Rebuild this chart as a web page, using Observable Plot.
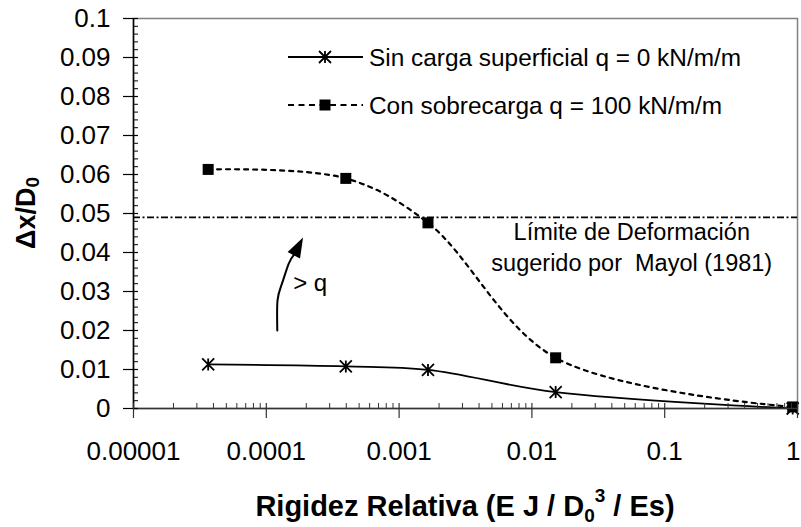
<!DOCTYPE html>
<html><head><meta charset="utf-8">
<script src="https://cdn.jsdelivr.net/npm/d3@7"></script>
<script src="https://cdn.jsdelivr.net/npm/@observablehq/plot@0.6"></script>
<style>
body{margin:0;background:#fff;}
svg{display:block;}
</style>
</head><body><div id="chart"></div>
<script>
// ---- data ----
const rigidity = [3.65e-5, 3.97e-4, 1.65e-3, 0.0151, 0.92];
const sinCarga = [0.0113, 0.0108, 0.0099, 0.0042, 0.0];
const conSobrecarga = [0.0613, 0.0590, 0.0476, 0.0130, 0.0004];
const limitValue = 0.049;
const seriesNames = ["Sin carga superficial q = 0 kN/m/m", "Con sobrecarga q = 100 kN/m/m"];
const xTickValues = [1e-5, 1e-4, 1e-3, 1e-2, 1e-1, 1];
const xTickLabels = ["0.00001", "0.0001", "0.001", "0.01", "0.1", "1"];
const yTickValues = [0, 0.01, 0.02, 0.03, 0.04, 0.05, 0.06, 0.07, 0.08, 0.09, 0.1];
const yTickLabels = ["0", "0.01", "0.02", "0.03", "0.04", "0.05", "0.06", "0.07", "0.08", "0.09", "0.1"];
const limitText = ["Límite de Deformación", "sugerido por \u00a0Mayol (1981)"];
const limitTextX = [0.0565, 0.0565];
const limitTextY = [0.0451, 0.0372];
const arrowText = "> q";
const arrowTextX = 2.14e-4, arrowTextY = 0.0321;
const arrowPathX = [1.21e-4, 1.215e-4, 1.312e-4, 1.473e-4, 1.624e-4];
const arrowPathY = [0.0200, 0.0277, 0.0320, 0.0371, 0.0395];
const yLabel = "Δx/D";
const xLabel = "Rigidez Relativa (E J / D";

// ---- derived tables ----
const s1 = rigidity.map((x, i) => ({x, y: sinCarga[i]}));
const s2 = rigidity.map((x, i) => ({x, y: conSobrecarga[i]}));
const arrowPath = arrowPathX.map((x, i) => ({x, y: arrowPathY[i]}));
const xMinor = [];
for (let e = -5; e < 0; e++) for (let m = 2; m <= 9; m++) xMinor.push(m * Math.pow(10, e));
const yMinor = d3.range(0, 50).map(i => i * 0.002).filter((v, i) => i % 5 !== 0);
const xTicksInner = xTickValues.slice(0, -1);
const xTickLast = xTickValues.slice(-1);

const starSymbol = {draw(ctx, size) {
  const r = Math.sqrt(size / Math.PI);
  ctx.moveTo(0, -r); ctx.lineTo(0, r);
  ctx.moveTo(-r, -r); ctx.lineTo(r, r);
  ctx.moveTo(-r, r); ctx.lineTo(r, -r);
}};
const squareSymbol = {draw(ctx, size) {
  const r = Math.sqrt(size / Math.PI);
  ctx.rect(-r, -r, 2 * r, 2 * r);
}};
const headSymbol = {draw(ctx, size) {
  ctx.moveTo(0, -19); ctx.lineTo(7, 1); ctx.lineTo(-7, 1); ctx.closePath();
}};

const W = 801, H = 527, ML = 133, MR = 4, MT = 18, MB = 119;
const FW = W - ML - MR, FH = H - MT - MB;
const font = "'Liberation Sans', Arial, sans-serif";

const chart = Plot.plot({
  width: W, height: H,
  marginLeft: ML, marginRight: MR, marginTop: MT, marginBottom: MB,
  style: {fontFamily: font, background: "white", color: "black"},
  x: {type: "log", domain: [1e-5, 1], axis: null},
  y: {domain: [0, 0.1], axis: null},
  marks: [
    Plot.frame({stroke: "#808080", strokeWidth: 1.5}),
    Plot.ruleY([limitValue], {stroke: "black", strokeWidth: 1.6, strokeDasharray: "7,2.5,2,2.5"}),
    Plot.line(s1, {x: "x", y: "y", curve: "catmull-rom", stroke: "black", strokeWidth: 1.8}),
    Plot.line(s2, {x: "x", y: "y", curve: "catmull-rom", stroke: "black", strokeWidth: 2.2, strokeDasharray: "4,5"}),
    Plot.dot(s1, {x: "x", y: "y", symbol: starSymbol, r: 6, stroke: "black", strokeWidth: 1.8, fill: "none"}),
    Plot.dot(s2, {x: "x", y: "y", symbol: squareSymbol, r: 5.5, fill: "black", stroke: "none"}),
    // axes lines
    Plot.ruleX([1e-5], {stroke: "black", strokeWidth: 1.5}),
    Plot.ruleY([0], {stroke: "#333", strokeWidth: 1.5}),
    // ticks
    Plot.tickY(yTickValues, {y: d => d, insetLeft: -10, insetRight: FW - 5, stroke: "black", strokeWidth: 1.2}),
    Plot.tickY(yMinor, {y: d => d, insetLeft: 0, insetRight: FW - 5, stroke: "black", strokeWidth: 1}),
    Plot.tickX(xTickValues, {x: d => d, insetTop: FH - 5, insetBottom: -10, stroke: "#333", strokeWidth: 1.2}),
    Plot.tickX(xMinor, {x: d => d, insetTop: FH - 5, insetBottom: 0, stroke: "#333", strokeWidth: 1}),
    // tick labels
    Plot.text(yTickValues, {x: () => 1e-5, y: d => d, text: (d, i) => yTickLabels[i], dx: -23, textAnchor: "end", fontSize: 26, fill: "black"}),
    Plot.text(xTicksInner, {x: d => d, y: () => 0, text: (d, i) => xTickLabels[i], dy: 43, fontSize: 26, fill: "black"}),
    Plot.text(xTickLast, {x: d => d, y: () => 0, text: () => xTickLabels[xTickLabels.length - 1], dy: 43, dx: 3, textAnchor: "end", fontSize: 26, fill: "black"}),
    // annotations
    Plot.text(limitText, {x: (d, i) => limitTextX[i], y: (d, i) => limitTextY[i], text: d => d, fontSize: 23.5, fill: "black"}),
    Plot.text([arrowText], {x: () => arrowTextX, y: () => arrowTextY, text: d => d, fontSize: 24, fill: "black"}),
    Plot.line(arrowPath, {x: "x", y: "y", curve: "natural", stroke: "black", strokeWidth: 2}),
    Plot.dot([arrowPath[arrowPath.length - 1]], {x: "x", y: "y", symbol: headSymbol, r: 5, rotate: 27.5, fill: "black", stroke: "none"})
  ]
});
document.getElementById("chart").appendChild(chart);

// ---- legend and axis titles ----
const svg = d3.select(chart);
const lg = svg.append("g").attr("font-family", font).attr("font-size", 24.4).attr("text-anchor", "start");
const legendRows = [
  {y: 57, dash: null, sym: "star"},
  {y: 105, dash: "6,4.5", sym: "square"}
];
legendRows.forEach((row, i) => {
  lg.append("line").attr("x1", 288).attr("x2", 363).attr("y1", row.y).attr("y2", row.y)
    .attr("stroke", "black").attr("stroke-width", row.dash ? 2.2 : 1.8)
    .attr("stroke-dasharray", row.dash);
  if (row.sym === "star") {
    const p = d3.path(); const r = 6, cx = 325, cy = row.y;
    p.moveTo(cx, cy - r); p.lineTo(cx, cy + r);
    p.moveTo(cx - r, cy - r); p.lineTo(cx + r, cy + r);
    p.moveTo(cx - r, cy + r); p.lineTo(cx + r, cy - r);
    lg.append("path").attr("d", p.toString()).attr("stroke", "black").attr("stroke-width", 1.8);
  } else {
    lg.append("rect").attr("x", 325 - 5.5).attr("y", row.y - 5.5).attr("width", 11).attr("height", 11).attr("fill", "black");
  }
  lg.append("text").attr("x", 369).attr("y", row.y).attr("dy", "0.35em").attr("text-anchor", "start").attr("fill", "black").text(seriesNames[i]);
});

const xt = svg.append("text").attr("x", ML + FW / 2).attr("y", 516)
  .attr("text-anchor", "middle").attr("font-family", font).attr("font-size", 29).attr("font-weight", "bold").attr("fill", "black");
xt.append("tspan").text(xLabel);
xt.append("tspan").attr("font-size", 19).attr("dy", 6).text("0");
xt.append("tspan").attr("font-size", 19).attr("dy", -20).text("3");
xt.append("tspan").attr("dy", 14).text(" / Es)");

const yt = svg.append("text").attr("transform", `translate(35,${MT + FH / 2}) rotate(-90)`)
  .attr("text-anchor", "middle").attr("font-family", font).attr("font-size", 27).attr("font-weight", "bold").attr("fill", "black");
yt.append("tspan").text(yLabel);
yt.append("tspan").attr("font-size", 19).attr("dy", 4).text("0");
</script>
</body></html>
